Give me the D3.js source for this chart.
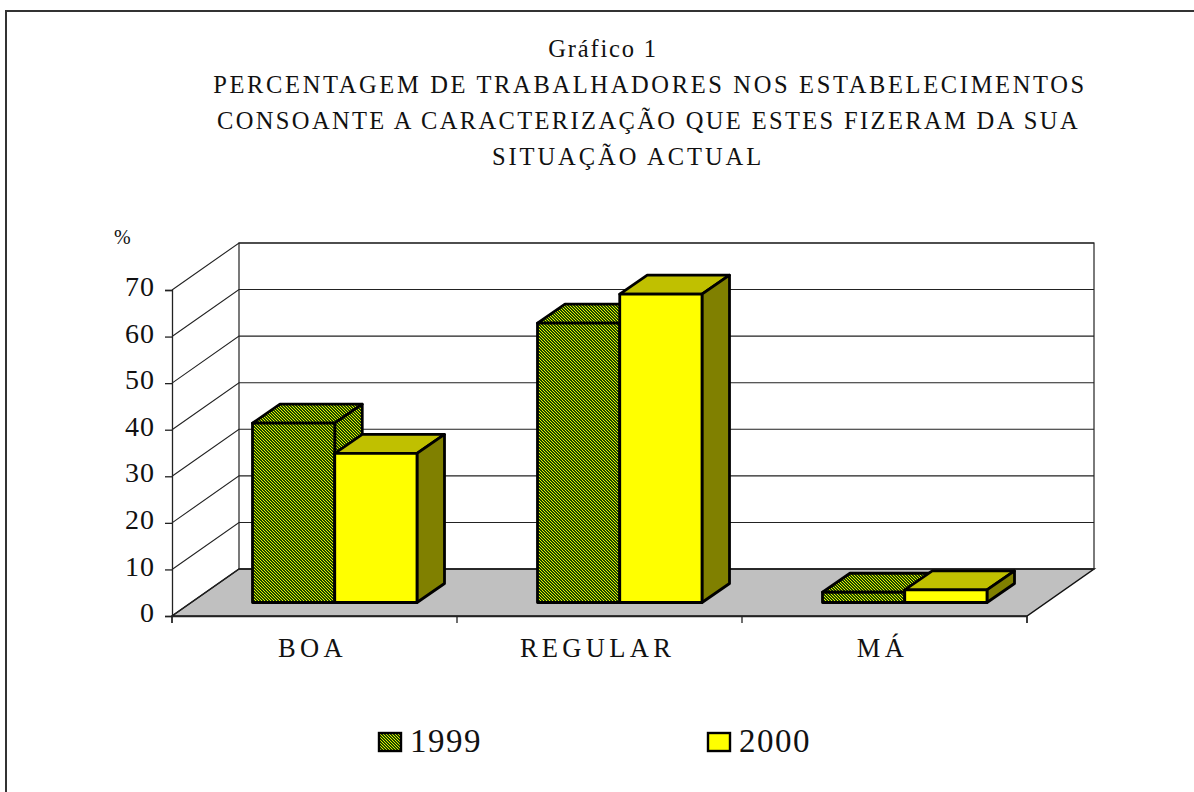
<!DOCTYPE html>
<html>
<head>
<meta charset="utf-8">
<script src="https://cdn.jsdelivr.net/npm/d3@7"></script>
<style>
  html, body { margin: 0; padding: 0; background: #fff; overflow: hidden; }
  text { font-family: "Liberation Serif", serif; fill: #111; }
</style>
</head>
<body>
<script>
var categories = ["BOA", "REGULAR", "MÁ"];
var years = ["1999", "2000"];
var values1999 = [38.5, 60, 2.2];
var values2000 = [32, 66.2, 2.7];
var yTicks = [0, 10, 20, 30, 40, 50, 60, 70];
var titleLines = [
  "Gráfico 1",
  "PERCENTAGEM DE TRABALHADORES NOS ESTABELECIMENTOS",
  "CONSOANTE A CARACTERIZAÇÃO QUE ESTES FIZERAM DA SUA",
  "SITUAÇÃO ACTUAL"
];

var w = 1194;
var h = 792;

// front plane of the fake 3d box
var x0 = 172, x1 = 1027;
var depthX = 67, depthY = 47;
var barOffY = 13.5;
var barDepthX = 27.5, barDepthY = 19;

var y = d3.scaleLinear().domain([0, 70]).range([616, 290]);
var x = d3.scaleBand().domain(categories).range([x0, x1]);
var inner = d3.scaleBand().domain(years).range([80.5, 245]);

var svg = d3.select("body")
  .append("svg")
  .attr("width", w)
  .attr("height", h);

var defs = svg.append("defs");
var pat = defs.append("pattern")
  .attr("id", "hatch")
  .attr("patternUnits", "userSpaceOnUse")
  .attr("width", 3)
  .attr("height", 3);
pat.append("rect").attr("width", 3).attr("height", 3).attr("fill", "#1c4800");
pat.append("path")
  .attr("d", "M0,0h1v1h-1zM1,1h1v1h-1zM2,2h1v1h-1z")
  .attr("fill", "#e8f000")
  .attr("shape-rendering", "crispEdges");

// page frame, only top and left show
svg.append("path")
  .attr("d", "M6,792V11H1194")
  .attr("fill", "none")
  .attr("stroke", "#333")
  .attr("stroke-width", 2);

var title = svg.append("g").attr("class", "title");
var titleX = [603, 650, 648.5, 628];
var titleSpacing = [1.8, 2.65, 2.36, 2.95];
title.selectAll("text")
  .data(titleLines)
  .enter()
  .append("text")
  .attr("x", function(d, i){ return titleX[i]; })
  .attr("y", function(d, i){ return 57 + i * 36; })
  .attr("text-anchor", "middle")
  .attr("font-size", 24.5)
  .attr("letter-spacing", function(d, i){ return titleSpacing[i]; })
  .text(function(d){ return d; });

svg.append("text")
  .attr("x", 114)
  .attr("y", 244)
  .attr("font-size", 20)
  .text("%");

// floor
svg.append("polygon")
  .attr("points", [[x0, y(0)], [x1, y(0)], [x1 + depthX, y(0) - depthY], [x0 + depthX, y(0) - depthY]].join(" "))
  .attr("fill", "#c0c0c0")
  .attr("stroke", "#111")
  .attr("stroke-width", 1.5);

// back wall and side wall
svg.append("rect")
  .attr("x", x0 + depthX)
  .attr("y", y(70) - depthY)
  .attr("width", x1 - x0)
  .attr("height", y(0) - y(70))
  .attr("fill", "none")
  .attr("stroke", "#222")
  .attr("stroke-width", 1.2);

var grid = svg.append("g");
yTicks.forEach(function(t){
  var gy = y(t);
  grid.append("path")
    .attr("d", "M" + x0 + "," + gy + "L" + (x0 + depthX) + "," + (gy - depthY) + "H" + (x1 + depthX))
    .attr("fill", "none")
    .attr("stroke", "#222")
    .attr("stroke-width", 1.1);
});

// axes
var yAxis = d3.axisLeft(y).tickValues(yTicks).tickSize(7).tickPadding(10);
var gY = svg.append("g").attr("transform", "translate(" + x0 + ",0)").call(yAxis);
gY.selectAll("text")
  .attr("font-size", 28)
  .attr("letter-spacing", 1)
  .attr("dy", "0.2em")
  .style("font-family", '"Liberation Serif", serif');

var xTicks = d3.axisBottom(d3.scaleLinear().domain([0, 3]).range([x0 - 0.5, x1 - 0.5]))
  .tickValues([0, 1, 2, 3])
  .tickSize(7)
  .tickFormat("");
svg.append("g").attr("transform", "translate(0," + y(0) + ")").call(xTicks);
svg.selectAll(".domain, .tick line").attr("stroke", "#222").attr("stroke-width", 1.3);

svg.append("g").selectAll("text")
  .data(categories)
  .enter()
  .append("text")
  .attr("x", function(d){ return x(d) + x.bandwidth() / 2 - 2; })
  .attr("y", 657)
  .attr("text-anchor", "middle")
  .attr("font-size", 26.5)
  .attr("letter-spacing", 4.3)
  .text(function(d){ return d; });

// bars
var seriesList = [
  { name: "1999", values: values1999, front: "url(#hatch)", top: "url(#hatch)", side: "url(#hatch)" },
  { name: "2000", values: values2000, front: "#ffff00", top: "#c0c000", side: "#808000" }
];

var face = function(g, pts, fill){
  g.append("polygon")
    .attr("points", pts.join(" "))
    .attr("fill", fill)
    .attr("stroke", "#000")
    .attr("stroke-width", 2.8)
    .attr("stroke-linejoin", "round");
};

var bars = svg.append("g");
categories.forEach(function(c, i){
  seriesList.forEach(function(s){
    var g = bars.append("g");
    var bl = x(c) + inner(s.name);
    var br = bl + inner.bandwidth();
    var bot = y(0) - barOffY;
    var tp = y(s.values[i]) - barOffY;
    face(g, [[bl, tp], [br, tp], [br + barDepthX, tp - barDepthY], [bl + barDepthX, tp - barDepthY]], s.top);
    face(g, [[br, tp], [br + barDepthX, tp - barDepthY], [br + barDepthX, bot - barDepthY], [br, bot]], s.side);
    face(g, [[bl, tp], [br, tp], [br, bot], [bl, bot]], s.front);
  });
});

// legend
var legendX = [379, 708];
var legend = svg.append("g");
seriesList.forEach(function(s, i){
  legend.append("rect")
    .attr("x", legendX[i])
    .attr("y", 733)
    .attr("width", 22)
    .attr("height", 18)
    .attr("fill", s.front)
    .attr("stroke", "#000")
    .attr("stroke-width", 2.4);
  legend.append("text")
    .attr("x", legendX[i] + 31)
    .attr("y", 752)
    .attr("font-size", 33)
    .attr("letter-spacing", 1.5)
    .text(s.name);
});
</script>
</body>
</html>
